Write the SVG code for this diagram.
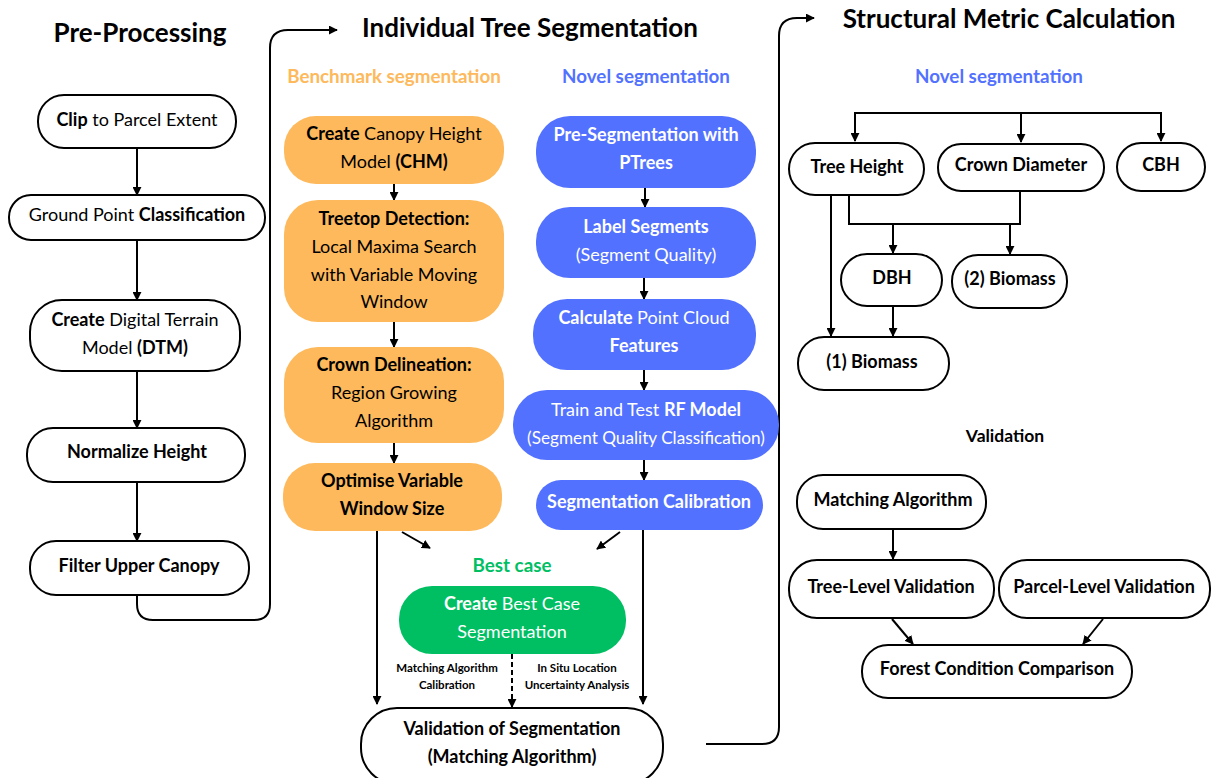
<svg xmlns="http://www.w3.org/2000/svg" width="1211" height="778" viewBox="0 0 1211 778">
<defs>
<marker id="ah" viewBox="0 0 10 10" refX="9" refY="5" markerWidth="9" markerHeight="9" markerUnits="userSpaceOnUse" orient="auto"><path d="M0,0 L10,5 L0,10 z" fill="#000"/></marker>
<style>
text{font-family:Lato,"Liberation Sans",sans-serif;font-size:18px;text-anchor:middle;fill:#000}
.t{font-size:26px;font-weight:bold}
.h{font-size:18.8px;font-weight:bold}
.s{font-size:11.5px;font-weight:bold}
.bd{font-weight:bold}
.w{fill:#fff}
.n{fill:#fff;stroke:#000;stroke-width:2}
.o{fill:#FDB95B}
.b{fill:#5271FF}
.g{fill:#00BF63}
.c{fill:none;stroke:#000;stroke-width:2;marker-end:url(#ah)}
.l{fill:none;stroke:#000;stroke-width:2}
</style>
</defs>
<rect width="1211" height="778" fill="#fff"/>
<g id="titles">
<text class="t" x="140" y="42">Pre-Processing</text>
<text class="t" x="530" y="37">Individual Tree Segmentation</text>
<text class="t" x="1009" y="28">Structural Metric Calculation</text>
<text class="h" x="394" y="83" style="fill:#FDB95B">Benchmark segmentation</text>
<text class="h" x="646" y="83" style="fill:#5271FF">Novel segmentation</text>
<text class="h" x="999" y="83" style="fill:#5271FF">Novel segmentation</text>
<text class="h" x="512" y="572" style="fill:#00BF63">Best case</text>
<text class="bd" x="1005" y="442" style="font-size:17.5px">Validation</text>
</g>
<g id="connectors">
<path class="c" d="M137,148 V195"/>
<path class="c" d="M137,240 V300"/>
<path class="c" d="M137,371 V428"/>
<path class="c" d="M137,482 V541"/>
<path class="c" d="M137,595 V604 Q137,620 153,620 H254 Q270,620 270,604 V48 Q270,30 288,30 H337"/>
<path class="c" d="M394,184 V200"/>
<path class="c" d="M394,322 V347"/>
<path class="c" d="M394,443 V463"/>
<path class="c" d="M645,188 V207"/>
<path class="c" d="M644,278 V299"/>
<path class="c" d="M644,370 V390"/>
<path class="c" d="M644,460 V480"/>
<path class="c" d="M402,532 L430,548"/>
<path class="c" d="M620,532 L597,549"/>
<path class="c" d="M377,531 V704"/>
<path class="c" d="M643,530 V704"/>
<path class="c" d="M512,654 V707" style="stroke-dasharray:5,3"/>
<path class="c" d="M706,744 H762 Q779,744 779,727 V36 Q779,18 797,18 H814"/>
<path class="l" d="M855,138 V113 H1161 V138"/>
<path class="c" d="M855,113 V141"/>
<path class="c" d="M1021,113 V142"/>
<path class="c" d="M1161,113 V141"/>
<path class="c" d="M831,195 V336"/>
<path class="l" d="M849,195 V224 H1020 V191"/>
<path class="c" d="M893,224 V253"/>
<path class="c" d="M1010,224 V254"/>
<path class="c" d="M893,306 V336"/>
<path class="c" d="M893,529 V559"/>
<path class="c" d="M892,619 L913,644"/>
<path class="c" d="M1103,619 L1083,644"/>
</g>
<g id="labels">
<text class="s" x="447" y="672">Matching Algorithm</text>
<text class="s" x="447" y="689">Calibration</text>
<text class="s" x="577" y="672">In Situ Location</text>
<text class="s" x="577" y="689">Uncertainty Analysis</text>
</g>
<g id="clip"><rect class="n" x="38" y="95" width="198" height="53" rx="26"/><text x="137" y="126"><tspan class="bd">Clip</tspan> to Parcel Extent</text></g>
<g id="ground"><rect class="n" x="9" y="195" width="256" height="45" rx="22"/><text x="137" y="221">Ground Point <tspan class="bd">Classification</tspan></text></g>
<g id="dtm"><rect class="n" x="30" y="300" width="210" height="71" rx="32"/><text x="135" y="326"><tspan class="bd">Create</tspan> Digital Terrain</text><text x="135" y="354">Model <tspan class="bd">(DTM)</tspan></text></g>
<g id="normalize"><rect class="n" x="27" y="428" width="218" height="54" rx="26"/><text class="bd" x="137" y="458">Normalize Height</text></g>
<g id="filter"><rect class="n" x="30" y="541" width="219" height="54" rx="26"/><text class="bd" x="139" y="572">Filter Upper Canopy</text></g>
<g id="chm"><rect class="o" x="284" y="116" width="220" height="68" rx="32"/><text x="394" y="140"><tspan class="bd">Create</tspan> Canopy Height</text><text x="394" y="168">Model <tspan class="bd">(CHM)</tspan></text></g>
<g id="treetop"><rect class="o" x="284" y="200" width="220" height="122" rx="34"/><text class="bd" x="394" y="225">Treetop Detection:</text><text x="394" y="253">Local Maxima Search</text><text x="394" y="281">with Variable Moving</text><text x="394" y="308">Window</text></g>
<g id="crown"><rect class="o" x="284" y="347" width="220" height="96" rx="34"/><text class="bd" x="394" y="371">Crown Delineation:</text><text x="394" y="399">Region Growing</text><text x="394" y="427">Algorithm</text></g>
<g id="optimise"><rect class="o" x="283" y="463" width="219" height="68" rx="32"/><text class="bd" x="392" y="487">Optimise Variable</text><text class="bd" x="392" y="515">Window Size</text></g>
<g id="preseg"><rect class="b" x="536" y="116" width="220" height="72" rx="34"/><text class="w bd" x="646" y="141">Pre-Segmentation with</text><text class="w bd" x="646" y="169">PTrees</text></g>
<g id="labelseg"><rect class="b" x="536" y="207" width="220" height="71" rx="34"/><text class="w bd" x="646" y="233">Label Segments</text><text class="w" x="646" y="261">(Segment Quality)</text></g>
<g id="features"><rect class="b" x="533" y="299" width="223" height="71" rx="34"/><text class="w" x="644" y="324"><tspan class="bd">Calculate</tspan> Point Cloud</text><text class="w bd" x="644" y="352">Features</text></g>
<g id="rf"><rect class="b" x="513" y="390" width="266" height="70" rx="34"/><text class="w" x="646" y="416">Train and Test <tspan class="bd">RF Model</tspan></text><text class="w" x="646" y="444" style="font-size:17.2px">(Segment Quality Classification)</text></g>
<g id="calib"><rect class="b" x="536" y="480" width="227" height="50" rx="25"/><text class="w bd" x="649" y="508">Segmentation Calibration</text></g>
<g id="bestcase"><rect class="g" x="399" y="586" width="227" height="68" rx="33"/><text class="w" x="512" y="610"><tspan class="bd">Create</tspan> Best Case</text><text class="w" x="512" y="638">Segmentation</text></g>
<g id="validation-seg"><rect class="n" x="361" y="708" width="302" height="76" rx="36"/><text class="bd" x="512" y="735">Validation of Segmentation</text><text class="bd" x="512" y="763">(Matching Algorithm)</text></g>
<g id="treeheight"><rect class="n" x="789" y="143" width="135" height="52" rx="26"/><text class="bd" x="857" y="173">Tree Height</text></g>
<g id="crowndiam"><rect class="n" x="938" y="144" width="166" height="47" rx="23"/><text class="bd" x="1021" y="171">Crown Diameter</text></g>
<g id="cbh"><rect class="n" x="1117" y="143" width="88" height="48" rx="24"/><text class="bd" x="1161" y="171">CBH</text></g>
<g id="dbh"><rect class="n" x="841" y="254" width="101" height="52" rx="26"/><text class="bd" x="892" y="284">DBH</text></g>
<g id="biomass2"><rect class="n" x="952" y="255" width="115" height="53" rx="26"/><text class="bd" x="1010" y="285">(2) Biomass</text></g>
<g id="biomass1"><rect class="n" x="798" y="337" width="151" height="53" rx="26"/><text class="bd" x="872" y="368">(1) Biomass</text></g>
<g id="matching"><rect class="n" x="797" y="475" width="189" height="54" rx="26"/><text class="bd" x="893" y="506">Matching Algorithm</text></g>
<g id="treelevel"><rect class="n" x="789" y="560" width="205" height="58" rx="28"/><text class="bd" x="891" y="593">Tree-Level Validation</text></g>
<g id="parcellevel"><rect class="n" x="999" y="560" width="211" height="58" rx="28"/><text class="bd" x="1104" y="593">Parcel-Level Validation</text></g>
<g id="forest"><rect class="n" x="862" y="645" width="270" height="53" rx="26"/><text class="bd" x="997" y="675">Forest Condition Comparison</text></g>
</svg>
